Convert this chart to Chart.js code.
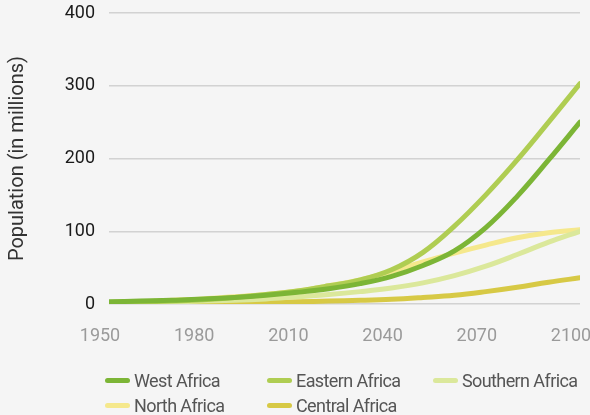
<!DOCTYPE html>
<html>
<head>
<meta charset="utf-8">
<script src="https://cdn.jsdelivr.net/npm/chart.js@4"></script>
<style>
  html, body { margin: 0; padding: 0; background: #f5f5f5; }
  #wrap { position: relative; width: 590px; height: 415px; background: #f5f5f5; overflow: hidden; }
  canvas { display: block; }
  #legend { position: absolute; left: 0; top: 0; width: 590px; height: 415px; pointer-events: none;
            font-family: Roboto, sans-serif; font-size: 18px; color: #555; }
  .item { position: absolute; display: flex; align-items: center; white-space: nowrap; letter-spacing: -0.6px; }
  .mark { width: 25px; height: 5px; border-radius: 3px; margin-right: 4px; }
</style>
</head>
<body>
<div id="wrap">
  <canvas id="c" width="590" height="415"></canvas>
  <div id="legend"></div>
</div>
<script>
const years = [1950,1960,1970,1980,1990,2000,2010,2020,2030,2040,2050,2060,2070,2080,2090,2100];
const seriesNames = ['West Africa','Eastern Africa','Southern Africa','North Africa','Central Africa'];
const westAfrica     = [3,4,5,7,9,12,16,21,28,38,53,73,105,148,198,250];
const easternAfrica  = [2,3,4,6,9,13,18,25,33,47,71,107,150,198,250,303];
const southernAfrica = [1,2,3,4,5,7,10,13,17,22,29,39,52,68,85,100];
const northAfrica    = [2,3,5,7,10,13,18,25,33,45,58,70,81,91,98,102];
const centralAfrica  = [0.5,0.7,1,1.3,1.7,2.2,3,4,5,6.5,9,12,17,23,30,36];
const xTicks = [1950,1980,2010,2040,2070,2100];
const yTicks = [0,100,200,300,400];

const colors = ['#7cb536','#afcd52','#dbe89b','#f5e88c','#d7c945'];
const values = [westAfrica, easternAfrica, southernAfrica, northAfrica, centralAfrica];

const FONT = "Roboto, sans-serif";

const datasets = seriesNames.map((name, i) => ({
  label: name,
  data: years.map((y, j) => ({ x: y, y: values[i][j] })),
  borderColor: colors[i],
  backgroundColor: colors[i],
  borderWidth: 5,
  borderCapStyle: 'round',
  borderJoinStyle: 'round',
  pointRadius: 0,
  tension: 0.4,
  fill: false
}));

new Chart(document.getElementById('c'), {
  type: 'line',
  data: { datasets },
  options: {
    responsive: false,
    animation: false,
    events: [],
    layout: { padding: { top: 13, right: 10, bottom: 61, left: 0 } },
    plugins: { legend: { display: false }, tooltip: { enabled: false } },
    scales: {
      x: {
        type: 'linear',
        min: 1950, max: 2100,
        afterBuildTicks: s => { s.ticks = xTicks.map(v => ({ value: v })); },
        afterFit: s => { s.height = 50; s.paddingLeft = 0; s.paddingRight = 0; },
        grid: { display: false, drawTicks: false },
        border: { display: false },
        ticks: {
          callback: v => String(v),
          color: '#9a9a9a',
          font: { family: FONT, size: 18 },
          padding: 22,
          maxRotation: 0,
          labelOffset: -9
        }
      },
      y: {
        min: 0, max: 400,
        afterBuildTicks: s => { s.ticks = yTicks.map(v => ({ value: v })); },
        afterFit: s => { s.width = 109; s.paddingTop = 0; s.paddingBottom = 0; },
        grid: { color: '#d2d2d2', lineWidth: 1.5, drawTicks: false },
        border: { display: false },
        ticks: {
          callback: v => String(v),
          color: '#1a1a1a',
          font: { family: FONT, size: 18 },
          padding: 14
        },
        title: {
          display: true,
          text: 'Population (in millions)',
          color: '#333',
          font: { family: FONT, size: 20 },
          padding: { top: 6, bottom: 0 }
        }
      }
    }
  }
});

const legendPos = [[105,380],[267,380],[433,380],[105,405],[267,405]];
const leg = document.getElementById('legend');
seriesNames.forEach((name, i) => {
  const d = document.createElement('div');
  d.className = 'item';
  d.style.left = legendPos[i][0] + 'px';
  d.style.top = (legendPos[i][1] - 11) + 'px';
  d.style.height = '22px';
  const m = document.createElement('span');
  m.className = 'mark';
  m.style.background = colors[i];
  const t = document.createElement('span');
  t.textContent = name;
  d.appendChild(m); d.appendChild(t);
  leg.appendChild(d);
});
</script>
</body>
</html>
